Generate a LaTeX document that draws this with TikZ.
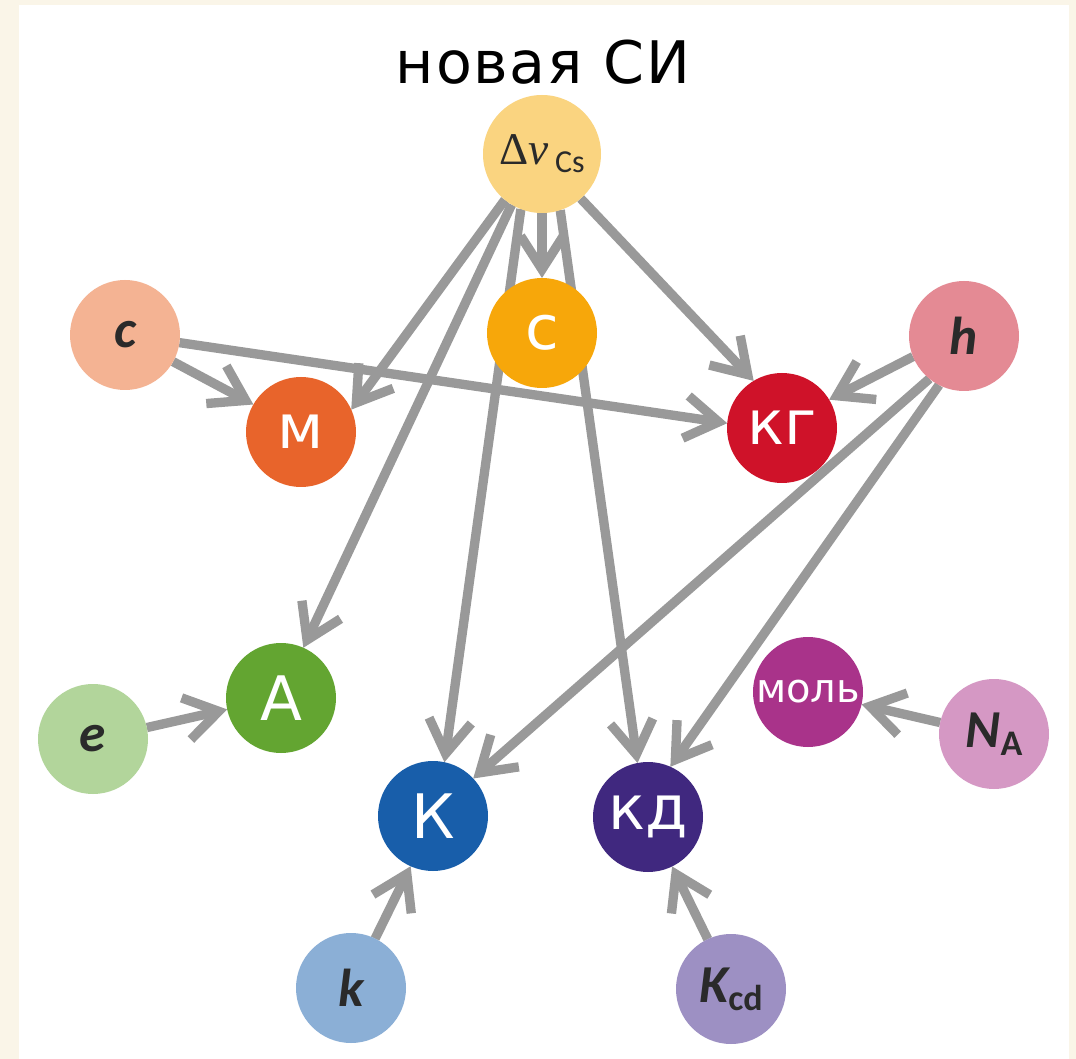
\documentclass[tikz,border=0pt]{standalone}
\usepackage{fontspec}
\setmainfont{DejaVu Sans}
\newfontfamily\constfont{Carlito}
\newfontfamily\greekserif{Liberation Serif}
\usetikzlibrary{arrows.meta,backgrounds}
\definecolor{cream}{HTML}{FAF5E8}
\definecolor{arrowgray}{HTML}{999999}
\definecolor{textdark}{HTML}{2A2A2A}
\definecolor{cDnu}{HTML}{FAD480}
\definecolor{cC}{HTML}{F4B393}
\definecolor{cS}{HTML}{F7A70A}
\definecolor{cH}{HTML}{E48A94}
\definecolor{cM}{HTML}{E8642B}
\definecolor{cKg}{HTML}{CF1229}
\definecolor{cA}{HTML}{63A531}
\definecolor{cE}{HTML}{B2D59B}
\definecolor{cMol}{HTML}{A9338A}
\definecolor{cNA}{HTML}{D598C4}
\definecolor{cK}{HTML}{185EAA}
\definecolor{cKd}{HTML}{40287F}
\definecolor{ck}{HTML}{8BAFD6}
\definecolor{cKcd}{HTML}{9D90C3}
\begin{document}
\begin{tikzpicture}[x=0.75pt,y=-0.75pt,
  unit/.style={circle,minimum size=82.5pt,inner sep=0pt,outer sep=0pt,text=white,font=\fontsize{46}{46}\selectfont},
  const/.style={circle,minimum size=82.5pt,inner sep=0pt,outer sep=0pt,text=textdark,font=\constfont\bfseries\itshape\fontsize{40}{40}\selectfont},
  conn/.style={draw=arrowgray,line width=7pt,-{Straight Barb[length=25pt,width=32pt]}}]
\useasboundingbox (0,0) rectangle (1076,1059);
\begin{scope}[on background layer]
\fill[cream] (0,0) rectangle (1076,1059);
\fill[white] (19,5) rectangle (1069,1059);
\end{scope}

\node[font=\fontsize{44}{44}\selectfont\addfontfeature{LetterSpace=3}] (title) at (543,62) {новая СИ};

\node[circle,minimum size=88.5pt,inner sep=0pt,outer sep=0pt,fill=cDnu,text=textdark] (dnu) at (542,154)
  {{\greekserif\fontsize{34}{34}\selectfont Δ\itshape ν}\hspace{5pt}{\constfont\fontsize{24}{24}\selectfont\raisebox{-6pt}{Cs}}};
\node[const,fill=cC] (c) at (125,335) {c};
\node[unit,fill=cS] (s) at (542,333) {с};
\node[const,fill=cH] (h) at (964,336) {h};
\node[unit,fill=cM] (m) at (301,432) {м};
\node[unit,fill=cKg] (kg) at (782,428) {кг};
\node[unit,fill=cA] (A) at (281,698) {А};
\node[const,fill=cE] (e) at (93,739) {e};
\node[unit,fill=cMol,font=\fontsize{30}{30}\selectfont] (mol) at (808,692) {моль};
\node[const,fill=cNA] (NA) at (994,734) {N{\upshape\fontsize{27}{27}\selectfont\raisebox{-6pt}{A}}};
\node[unit,fill=cK] (K) at (433,816) {К};
\node[unit,fill=cKd] (kd) at (648,817) {кд};
\node[const,fill=ck] (k) at (351,988) {k};
\node[const,fill=cKcd] (Kcd) at (731,989) {K{\upshape\fontsize{27}{27}\selectfont\raisebox{-6pt}{cd}}};

\begin{scope}[on background layer]
\draw[conn] (dnu.231) -- (m.24);
\draw[conn] (dnu.239) -- (A.66);
\draw[conn] (dnu.249) -- (K.78);
\draw[conn] (dnu.270) -- (s.90);
\draw[conn] (dnu.288) -- (kd.101);
\draw[conn] (dnu.311) -- (kg.121);
\draw[conn] (c.-29) -- (m.150);
\draw[conn] (c.-8) -- (kg.175);
\draw[conn] (h.202) -- (kg.31);
\draw[conn] (h.231) -- (K.43);
\draw[conn] (h.243) -- (kd.66);
\draw[conn] (e.12) -- (A.192);
\draw[conn] (NA.168) -- (mol.-13);
\draw[conn] (k.64) -- (K.246);
\draw[conn] (Kcd.115) -- (kd.296);
\end{scope}
\end{tikzpicture}
\end{document}
